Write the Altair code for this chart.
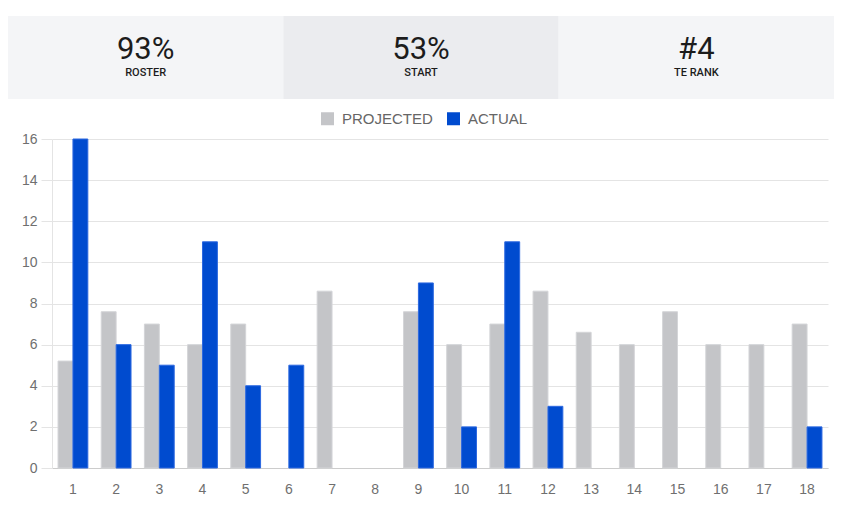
import altair as alt
import pandas as pd

# ---- data ----
weeks = list(range(1, 19))
projected = [5.2, 7.6, 7, 6, 7, 0, 8.6, 0, 7.6, 6, 7, 8.6, 6.6, 6, 7.6, 6, 6, 7]
actual = [16, 6, 5, 11, 4, 5, 0, 0, 9, 2, 11, 3, 0, 0, 0, 0, 0, 2]
series_names = ["PROJECTED", "ACTUAL"]
series_colors = ["#c4c5c8", "#004bcf"]
stroke_projected = "#d4d5d8"
stroke_actual = "#2c68e0"

stat_values = ["93%", "53%", "#4"]
stat_labels = ["ROSTER", "START", "TE RANK"]
stat_bg = ["#f4f5f7", "#ebecef", "#f4f5f7"]

# ---- tables ----
rows = []
for w, p, a in zip(weeks, projected, actual):
    rows.append({"week": w, "series": "PROJECTED", "value": p})
    rows.append({"week": w, "series": "ACTUAL", "value": a})
bars_df = pd.DataFrame(rows)

stats_df = pd.DataFrame({
    "pos": [0, 1, 2],
    "val": stat_values,
    "lab": stat_labels,
    "bg": stat_bg,
})

PLOT_W = 776
AXIS_EXTENT = 44
FULL_W = 826

# ---- header (spans the full width, including the y-axis gutter) ----
hx = alt.X("pos:O", scale=alt.Scale(paddingInner=0, paddingOuter=0,
                                    range=[-AXIS_EXTENT, FULL_W - AXIS_EXTENT]), axis=None)
base_h = alt.Chart(stats_df).encode(x=hx)
bg = base_h.mark_rect().encode(
    color=alt.Color("bg:N", scale=None, legend=None)
)
val_text = base_h.mark_text(
    font="Roboto", fontSize=31, color="#1c1c1c", baseline="alphabetic", y=43
).encode(text="val:N")
lab_text = base_h.mark_text(
    font="Roboto", fontSize=11, fontWeight=500, color="#1c1c1c", baseline="alphabetic", y=60
).encode(text="lab:N")
header = alt.layer(bg, val_text, lab_text).properties(width=PLOT_W, height=83)

# ---- bars ----
bars = alt.Chart(bars_df).transform_filter(alt.datum.value > 0).mark_bar(
    strokeWidth=1
).encode(
    x=alt.X(
        "week:O",
        title=None,
        scale=alt.Scale(domain=weeks, paddingInner=0.31, paddingOuter=0.14),
        axis=alt.Axis(
            labelAngle=0, labelFont="Arial", labelFontSize=14, labelColor="#6f6f6f",
            ticks=False, domainColor="#cccccc", labelPadding=14, grid=False,
        ),
    ),
    xOffset=alt.XOffset("series:N", sort=series_names,
                        scale=alt.Scale(domain=series_names, paddingInner=0, paddingOuter=0)),
    y=alt.Y(
        "value:Q",
        title=None,
        scale=alt.Scale(domain=[0, 16], nice=False),
        axis=alt.Axis(
            values=[0, 2, 4, 6, 8, 10, 12, 14, 16],
            labelFont="Arial", labelFontSize=14, labelColor="#6f6f6f",
            tickSize=11, tickColor="#e4e4e4", domainColor="#e4e4e4",
            gridColor="#e4e4e4", labelPadding=4, minExtent=AXIS_EXTENT,
        ),
    ),
    color=alt.Color(
        "series:N",
        sort=series_names,
        scale=alt.Scale(domain=series_names, range=series_colors),
        legend=alt.Legend(
            title=None, orient="none", legendX=268, legendY=-28, direction="horizontal",
            symbolType="square", symbolSize=169, symbolStrokeWidth=0,
            labelFont="Arial", labelFontSize=15, labelColor="#666666",
            labelOffset=7, columnPadding=13,
        ),
    ),
    stroke=alt.condition(
        alt.datum.series == "ACTUAL", alt.value(stroke_actual), alt.value(stroke_projected)
    ),
).properties(width=PLOT_W, height=329)

chart = alt.vconcat(header, bars, spacing=12).resolve_legend(color="independent").properties(
    padding={"top": 8, "left": 0, "right": 0, "bottom": 0}
).configure_view(stroke=None)

chart.save("out.html", embed_options={"renderer": "svg", "actions": False})
